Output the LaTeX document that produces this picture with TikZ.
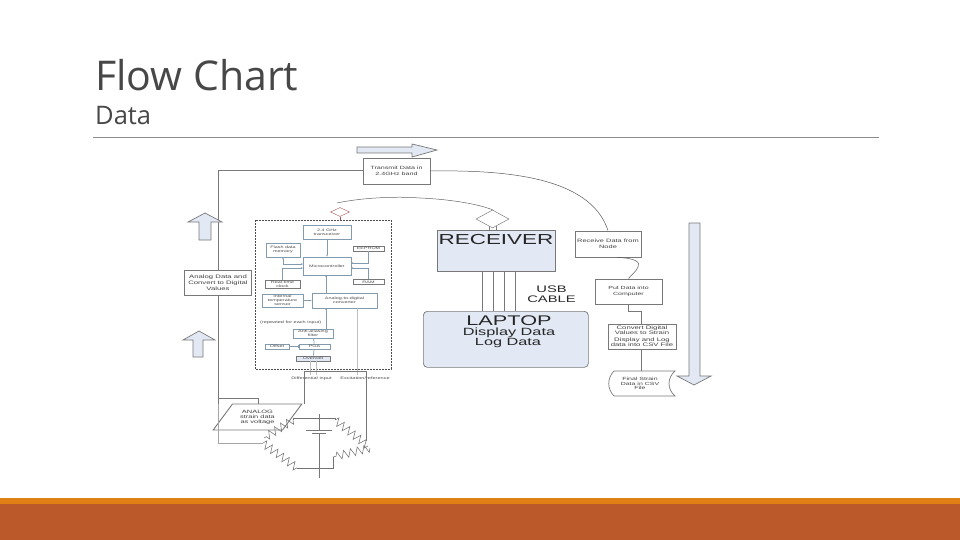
\documentclass[tikz,border=0pt]{standalone}
\usepackage{fontspec}
\setmainfont{Liberation Sans}
\newfontfamily\titlefont{Open Sans}
\newfontfamily\widefont{Liberation Sans}[FakeStretch=1.55]
\definecolor{boxblue}{RGB}{226,233,245}
\definecolor{barorange}{RGB}{224,128,20}
\definecolor{barrust}{RGB}{187,89,42}
\definecolor{linegray}{RGB}{120,120,120}
\definecolor{innerblue}{RGB}{130,155,175}
\usetikzlibrary{shapes.geometric, decorations.pathmorphing, arrows.meta}
\tikzset{
    flowbox/.style={draw=linegray, fill=white, line width=0.9pt, align=center, font=\widefont\fontsize{4.6}{5.5}\selectfont, inner sep=0.5pt, text=black!75},
    innerbox/.style={draw=innerblue, fill=white, line width=0.6pt, align=center, font=\widefont\fontsize{3.5}{4}\selectfont, inner sep=0.3pt, text=black!70},
    thickline/.style={draw=linegray, line width=1pt},
    innerline/.style={draw=innerblue, line width=0.7pt},
    fatarrow/.style={draw=linegray, fill=boxblue, line width=0.7pt},
    resistor/.style={draw=black!55, line width=0.55pt, decorate, decoration={zigzag, segment length=7pt, amplitude=4pt}},
    smalllabel/.style={font=\widefont\fontsize{3.6}{4}\selectfont, inner sep=0pt, text=black!70},
    biglabel/.style={inner sep=0pt, align=center, text=black!85}
}

\begin{document}
\begin{tikzpicture}[x=1pt, y=-1pt]
        \useasboundingbox (0,0) rectangle (960,540);
        \fill[barorange] (0,498) rectangle (960,504);
        \fill[barrust] (0,504) rectangle (960,540);

        \node[anchor=west, inner sep=0pt, font=\titlefont\fontsize{41}{44}\selectfont, text=black!72] (title) at (95,75) {Flow Chart};
        \node[anchor=west, inner sep=0pt, font=\titlefont\fontsize{25.5}{28}\selectfont, text=black!72] (subtitle) at (95,116) {Data};
        \coordinate (ruleL) at (93,137);
        \coordinate (ruleR) at (879,137);
        \draw[black!45, line width=0.7pt] (ruleL) -- (ruleR);

        % left side
        \node[flowbox, minimum width=67pt, minimum height=26pt] (transmit) at (396.5,171) {Transmit Data in\\2.4GHz band};
        \node[flowbox, minimum width=67pt, minimum height=25pt, font=\widefont\fontsize{5}{6}\selectfont] (analog) at (218,282.5) {Analog Data and\\Convert to Digital\\Values};
        \node[trapezium, trapezium stretches=true, trapezium left angle=47, trapezium right angle=133, draw=linegray, fill=white, line width=0.9pt, align=center, font=\widefont\fontsize{4.8}{5}\selectfont, minimum width=89pt, minimum height=26pt, inner sep=0pt, text=black!75] (sensor) at (257.5,417) {ANALOG\\strain data\\as voltage};
        \coordinate (cornerT) at (218,171);
        \coordinate (cornerB) at (218,404);
        \coordinate (tapA) at (258,398);
        \coordinate (tapB) at (218,398);
        \draw[thickline] (transmit.west) -- (cornerT) -- (analog.north);
        \draw[thickline] (analog.south) -- (cornerB);
        \draw[thickline] (tapB) -- (tapA) -- (258,404);

        % fat arrows
        \draw[fatarrow] (199,240) -- (199,222) -- (188,222) -- (205,213) -- (222,222) -- (211,222) -- (211,240) -- cycle;
        \draw[fatarrow] (193,357) -- (193,340) -- (183,340) -- (199,331) -- (215,340) -- (203,340) -- (203,357) -- cycle;
        \draw[fatarrow] (689,223) -- (700,223) -- (700,376) -- (711,376) -- (694,385) -- (677,376) -- (689,376) -- cycle;
        \draw[fatarrow] (357,147) -- (412,147) -- (412,144) -- (437,150) -- (412,157) -- (412,153) -- (357,153) -- cycle;

        % node inside
        \draw[black!70, dash pattern=on 2pt off 1pt, line width=0.7pt] (255,220) rectangle (391,369);
        \node[innerbox, minimum width=48pt, minimum height=14pt] (trx) at (327,232) {2.4 GHz\\transceiver};
        \node[innerbox, minimum width=34pt, minimum height=14pt] (flash) at (283,250) {Flash data\\memory};
        \node[innerbox, minimum width=31pt, minimum height=5pt, draw=linegray] (eeprom) at (368.5,248.5) {EEPROM};
        \node[innerbox, minimum width=48pt, minimum height=18pt] (micro) at (327,266) {Microcontroller};
        \node[innerbox, minimum width=31pt, minimum height=5pt, draw=linegray] (ram) at (368.5,282) {RAM};
        \node[innerbox, minimum width=35pt, minimum height=8pt, draw=linegray] (clock) at (282.5,284) {Real-time\\clock};
        \node[innerbox, minimum width=41pt, minimum height=13pt] (temp) at (282.5,300.5) {Internal\\temperature\\sensor};
        \node[innerbox, minimum width=65pt, minimum height=15pt] (adc) at (344.5,300.5) {Analog-to-digital\\converter};
        \node[smalllabel, anchor=west] (repeat) at (260,323) {(repeated for each input)};
        \node[innerbox, minimum width=40pt, minimum height=9pt] (filter) at (313,333.5) {Anti-aliasing\\filter};
        \node[innerbox, minimum width=24pt, minimum height=5pt] (offset) at (277,346.5) {Offset};
        \node[innerbox, minimum width=31pt, minimum height=5pt] (pga) at (314.5,346.5) {PGA};
        \node[innerbox, minimum width=34pt, minimum height=5pt, draw=linegray, fill=boxblue] (overv) at (313,358.5) {Overvolt};
        \node[smalllabel] (diffin) at (311.5,378.5) {Differential input};
        \node[smalllabel] (excite) at (365,378.5) {Excitation/reference};

        \draw[innerline, -{Stealth[length=2pt]}] (trx) -- (micro);
        \draw[innerline, {Stealth[length=2pt]}-{Stealth[length=2pt]}] (flash.south) |- (303,264);
        \draw[innerline, -{Stealth[length=2pt]}] (clock.north) |- (303,268);
        \draw[innerline, -{Stealth[length=2pt]}] (eeprom.south) |- (351,263);
        \draw[innerline, -{Stealth[length=2pt]}] (ram.north) |- (351,268);
        \draw[innerline, -{Stealth[length=2pt]}] (temp) -- (adc);
        \draw[innerline, -{Stealth[length=2pt]}] (326,293) -- (326,275);
        \draw[innerline, -{Stealth[length=2pt]}] (326,329) -- (326,308);
        \draw[innerline] (filter) -- (pga);
        \draw[innerline, {Bar[width=3pt]}-{Bar[width=3pt]}] (offset) -- (pga);
        \draw[innerline] (overv) -- (pga);
        \draw[black!25, line width=0.5pt] (357,308) -- (357,375);
        \draw[black!25, line width=0.5pt] (310,361) -- (310,375);
        \draw[black!25, line width=0.5pt] (316,361) -- (316,375);

        % antennas
        \node[diamond, draw=red!30!gray, aspect=2, minimum width=19pt, minimum height=9pt, inner sep=0pt, line width=0.4pt] (ant) at (340,212) {};
        \coordinate (antBase) at (340,220);
        \coordinate (ant2curve) at (420,198);
        \draw[red!30!gray, line width=0.5pt] (ant.south) -- (antBase);
        \draw[black!60, line width=0.5pt] (337,203) .. controls (360,198) and (395,196) .. (ant2curve);

        % bridge
        \draw[thickline] (304,404) -- (304,371) -- (366,371) -- (366,441);
        \draw[resistor] (293,420) -- (264,438);
        \draw[resistor] (335,420) -- (368,446);
        \draw[resistor] (263,443) -- (297,468);
        \draw[resistor] (370,448) -- (333,457);
        \draw[black!55, line width=0.6pt] (293,420) -- (293,418) -- (335,418) -- (335,420);
        \draw[black!55, line width=0.6pt] (297,468) -- (333,468) -- (333,457);
        \draw[linegray, line width=0.9pt] (319,414) -- (319,430) (306,430) -- (332,430) (312,433) -- (326,433) (319,433) -- (319,478);
        \draw[black!35, line width=0.5pt] (218,404) -- (218,443) -- (263,443);

        % right side
        \node[draw=linegray, fill=boxblue, line width=0.9pt, minimum width=118pt, minimum height=41pt, anchor=north west, inner sep=0pt] (receiver) at (437,230) {};
        \node[biglabel, font=\widefont\fontsize{14.5}{15}\selectfont] (rxlabel) at (496,240) {RECEIVER};
        \node[diamond, draw=black!50, aspect=1.83, fill=white, minimum width=33pt, minimum height=18pt, inner sep=0pt, line width=0.5pt] (rxant) at (492.5,219) {};
        \draw[black!50, line width=0.5pt] (489,226) -- (489,230) (496,226) -- (496,230);
        \draw[black!60, line width=0.5pt] (ant2curve) .. controls (445,199) and (475,203) .. (rxant.north);
        \node[draw=linegray, fill=boxblue, rounded corners=4pt, line width=0.7pt, minimum width=165pt, minimum height=56pt, anchor=north west, inner sep=0pt] (laptop) at (423,311) {};
        \node[biglabel, font=\widefont\fontsize{14}{14}\selectfont] (lplabel) at (509,321) {LAPTOP};
        \node[biglabel, font=\widefont\fontsize{10.5}{10}\selectfont] (lpdisplay) at (509,333) {Display Data};
        \node[biglabel, font=\widefont\fontsize{10.5}{10}\selectfont] (lplog) at (508,343) {Log Data};
        \foreach \xpos in {482,493,504,515} {
            \coordinate (usbT\xpos) at (\xpos,271);
            \coordinate (usbB\xpos) at (\xpos,311);
            \draw[linegray, line width=0.9pt] (usbT\xpos) -- (usbB\xpos);
        }
        \node[biglabel, font=\widefont\fontsize{9.5}{10}\selectfont] (usb) at (551.5,294) {USB\\CABLE};

        \node[flowbox, minimum width=66pt, minimum height=26pt, font=\widefont\fontsize{4.8}{5.5}\selectfont] (rxnode) at (608,244) {Receive Data from\\Node};
        \node[flowbox, minimum width=67pt, minimum height=25pt, font=\widefont\fontsize{4.5}{5.5}\selectfont] (put) at (628.5,291.5) {Put Data into\\Computer};
        \node[flowbox, minimum width=68pt, minimum height=25pt, font=\widefont\fontsize{5}{5.2}\selectfont] (conv) at (642,336.5) {Convert Digital\\Values to Strain\\[1.5pt]Display and Log\\data into CSV File};
        \node[flowbox, draw=none, fill=none, font=\widefont\fontsize{4.5}{4.8}\selectfont] (final) at (640,383.5) {Final Strain\\Data in CSV\\File};
        \coordinate (docTL) at (614,371);
        \coordinate (docTR) at (675,371);
        \coordinate (docBR) at (675,396);
        \coordinate (docBL) at (614,396);
        \draw[linegray, line width=0.7pt] (docTL) .. controls (607,378) and (607,389) .. (docBL) -- (docBR) .. controls (667,389) and (667,378) .. (docTR) -- cycle;
        \draw[black!65, line width=0.5pt] (transmit.east) .. controls (500,170) and (590,175) .. (rxnode.north);
        \draw[black!65, line width=0.5pt] ([xshift=9pt]rxnode.south) .. controls (635,258) and (641,262) .. (638,267) .. controls (636,272) and (631,275) .. (put.north);
        \coordinate (putStep) at (641,311);
        \draw[linegray, line width=0.7pt] (put.south) |- (putStep) -- (conv.north -| putStep);
        \draw[linegray, line width=0.9pt] (conv.south -| putStep) -- (docTL -| putStep);
\end{tikzpicture}
\end{document}
